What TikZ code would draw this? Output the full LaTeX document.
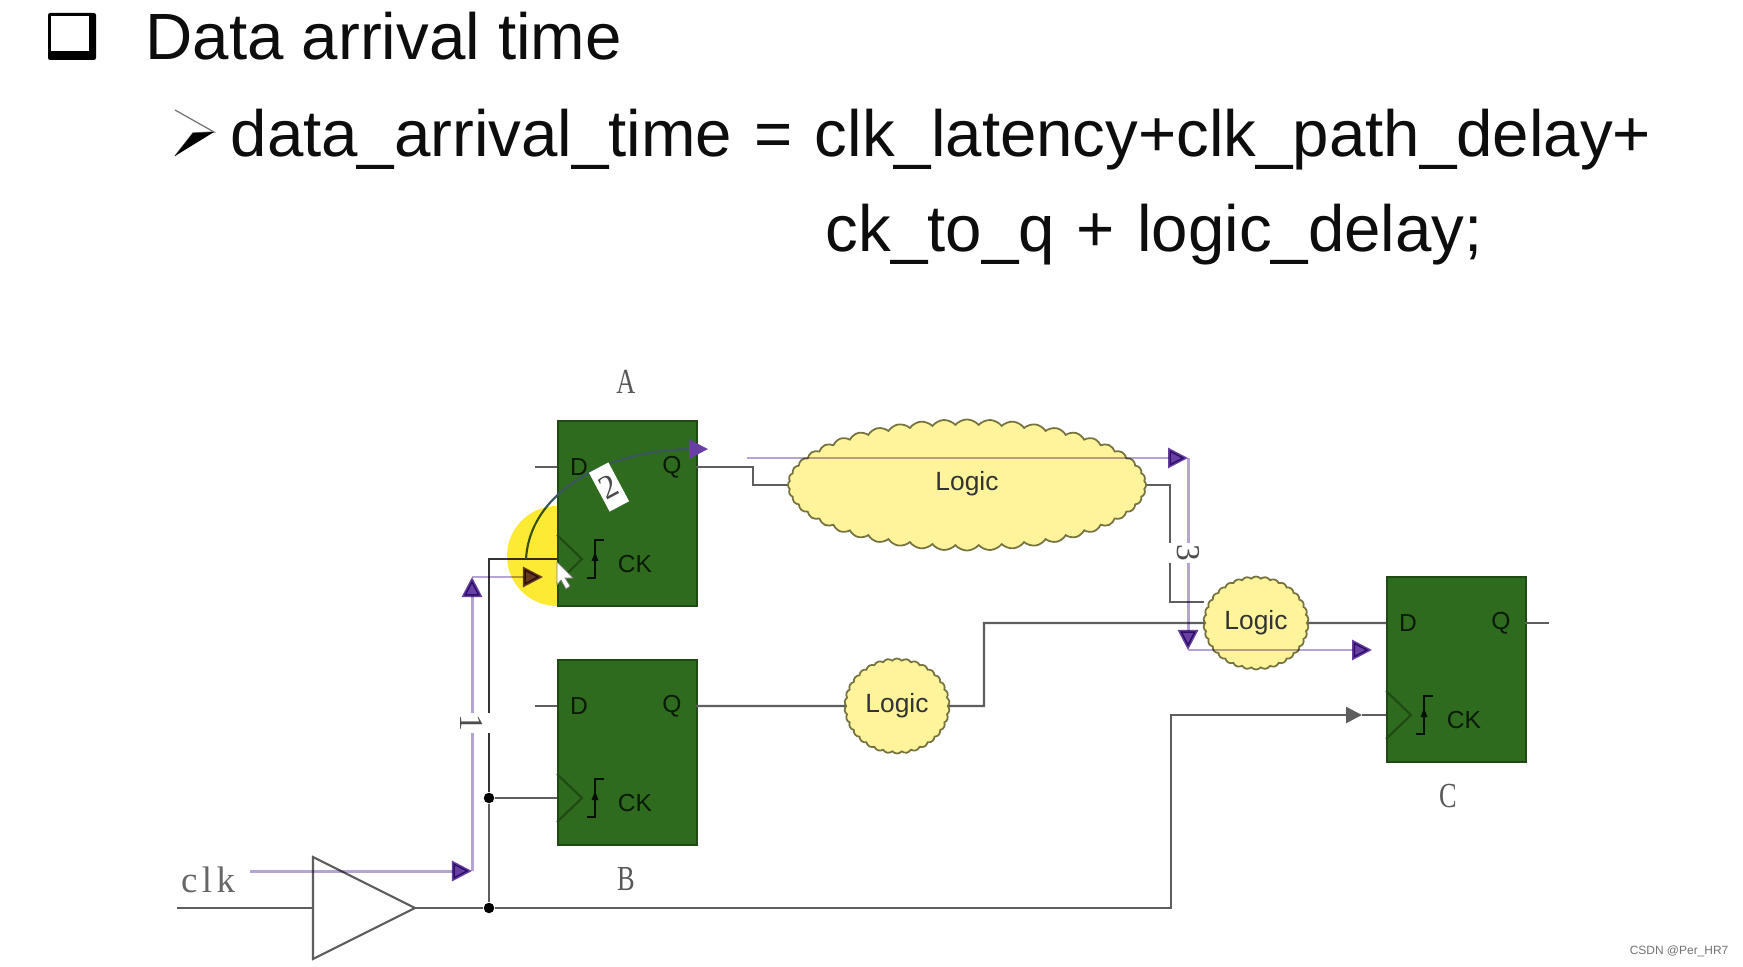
\documentclass[tikz,border=0pt]{standalone}
\usepackage{fontspec}
\setmainfont{Liberation Sans}
\newfontfamily\formulafont[WordSpace=1.22]{Liberation Sans}
\newfontfamily\labelfont{Liberation Serif}
\newfontfamily\spacedfont[LetterSpace=12]{Liberation Serif}
\usetikzlibrary{arrows.meta, shapes.symbols, calc}

\definecolor{flopgreen}{HTML}{2E6B1E}
\definecolor{flopedge}{HTML}{1F4A14}
\definecolor{cloudfill}{HTML}{FFF49C}
\definecolor{cloudedge}{HTML}{77733F}
\definecolor{wiregray}{HTML}{5E5E5E}
\definecolor{routeline}{HTML}{B5A4D6}
\definecolor{routetip}{HTML}{6A3FA3}
\definecolor{routedark}{HTML}{3A5560}
\definecolor{markyellow}{HTML}{FDEB33}

\tikzset{
  flopbox/.style={draw=flopedge, fill=flopgreen, line width=0.6pt, anchor=north west,
    minimum width=1.39cm, minimum height=1.85cm, inner sep=0pt},
  pinlabel/.style={font=\fontsize{7}{8}\selectfont, text=black!75!flopgreen, inner sep=0pt},
  logiccloud/.style={cloud, cloud puffs=#1, cloud puff arc=100, draw=cloudedge, fill=cloudfill,
    line width=0.5pt, inner sep=0pt, font=\fontsize{7.5}{9}\selectfont, text=black!80},
  wire/.style={draw=wiregray, line width=0.65pt},
  route/.style={draw=routeline, line width=0.85pt, blend mode=multiply,
    -{Triangle[length=2mm, width=2mm, color=routetip]}},
  headline/.style={font=\fontsize{18.6}{22}\selectfont, inner sep=0pt, anchor=base west, text=black!95},
  namelabel/.style={font=\labelfont\fontsize{10}{12}\selectfont, text=black!65, xscale=0.75, inner sep=0pt},
  routeno/.style={font=\labelfont\fontsize{9.5}{10}\selectfont, text=black!70, fill=white,
    rotate=#1, inner xsep=0.5pt, inner ysep=0pt},
  joint/.style={circle, fill=black, inner sep=0pt, minimum size=1.05mm},
}

\begin{document}
\begin{tikzpicture}[x=0.01cm, y=-0.01cm, >={Triangle[length=1.6mm, width=1.6mm]}]
  \fill[white] (0,0) rectangle (1743,967);
  \useasboundingbox (0,0) rectangle (1743,967);

  % headline
  \fill[black, rounded corners=0.6pt] (48,13) rectangle (96,60);
  \fill[white] (51,16) rectangle (89,51);
  \node[headline] (title) at (145,60) {Data arrival time};
  \draw[black!55, line width=0.35pt] (175,110) -- (214,132) -- (193,133) -- (175,156);
  \fill[black] (214,132) -- (175,156) -- (193,133) -- cycle;
  \node[headline] (formula) at (230,157) {\formulafont data\_arrival\_time = clk\_latency+clk\_path\_delay+};
  \node[headline] (formulb) at (825,252) {\formulafont ck\_to\_q + logic\_delay;};

  % flip-flops
  \foreach \name/\px/\py in {A/557/420, B/557/659, C/1386/576} {
    \node[flopbox] (ff\name) at (\px,\py) {};
    \draw[flopedge, line width=0.6pt] (\px,\py+115) -- (\px+25,\py+139) -- (\px,\py+163);
    \draw[black!85!flopgreen, line width=0.5pt] (\px+30,\py+158) -- (\px+38,\py+158) -- (\px+38,\py+120) -- (\px+47,\py+120);
    \fill[black!85!flopgreen] (\px+34.5,\py+141) -- (\px+41.5,\py+141) -- (\px+38,\py+132) -- cycle;
    \node[pinlabel] (d\name) at (\px+22,\py+47) {D};
    \node[pinlabel] (q\name) at (\px+115,\py+47) {Q};
    \node[pinlabel] (ck\name) at (\px+78,\py+144) {CK};
    \coordinate (din\name) at (\px,\py+47);
    \coordinate (qout\name) at (\px+139,\py+47);
    \coordinate (clk\name) at (\px,\py+139);
  }
  \node[namelabel] (nameA) at (626,382) {A};
  \node[namelabel] (nameB) at (626,879) {B};
  \node[namelabel] (nameC) at (1448,796) {C};

  % logic
  \node[logiccloud=48, aspect=2.75, minimum width=3.58cm, minimum height=1.31cm] (cloudA) at (967,485) {};
  \node[inner sep=0pt, font=\fontsize{7.5}{9}\selectfont, text=black!80] (textA) at (967,484) {Logic};
  \node[logiccloud=34, aspect=1.1, minimum width=1.05cm, minimum height=0.95cm] (cloudB) at (897,706) {Logic};
  \node[logiccloud=34, aspect=1.1, minimum width=1.05cm, minimum height=0.93cm] (cloudC) at (1256,623) {Logic};

  % buffer
  \coordinate (bufin) at (313,908);
  \coordinate (bufout) at (415,908);
  \draw[wiregray, line width=0.6pt, fill=white] (313,857) -- (bufout) -- (313,959) -- cycle;
  \node[font=\spacedfont\fontsize{10.5}{12}\selectfont, text=black!60, inner sep=0pt] (clklabel) at (208,880) {clk};

  % wires
  \coordinate (clkfree) at (177,908);
  \coordinate (stubA) at (535,467);
  \coordinate (stubB) at (535,706);
  \coordinate (stubC) at (1549,623);
  \draw[wire] (clkfree) -- (bufin);
  \draw[wire] (stubA) -- (dinA);
  \draw[wire] (stubB) -- (dinB);
  \draw[wire] (qoutC) -- (stubC);
  \node[joint] (jointlow) at (489,908) {};
  \node[joint] (jointhigh) at (489,798) {};
  \draw[wire] (bufout) -- (jointlow);
  \draw[wire] (jointlow) -- (jointhigh);
  \draw[wire] (jointhigh) -- (clkB);
  \draw[wire, draw=black!80] (jointhigh) |- (clkA);
  \coordinate (clktip) at (1362,715);
  \draw[wire, ->] (jointlow) -- (1171,908) -- (1171,715) -- (clktip);
  \draw[wire] (clktip) -- (clkC);
  \draw[wire] (qoutA) -- (753,467) -- (753,485) -- (cloudA.west);
  \draw[wire] (cloudA.east) -- (1170,485) -- (1170,602) -- (cloudC.west |- 0,602);
  \draw[wire] (qoutB) -- (cloudB.west);
  \draw[wire] (cloudB.east) -- (984,706) -- (984,623) -- (cloudC.west);
  \draw[wire] (cloudC.east) -- (dinC);

  % delay routes
  \coordinate (routea) at (250,871);
  \coordinate (routeb) at (472,871);
  \coordinate (routec) at (472,577);
  \coordinate (routed) at (543,577);
  \draw[route] (routea) -- (routeb);
  \draw[route] (routeb) -- (routec);
  \draw[route] (routec) -- (routed);
  \coordinate (routee) at (526,559);
  \coordinate (routef) at (708,449);
  \draw[draw=routedark, line width=0.6pt, -{Triangle[length=1.9mm, width=1.9mm, color=routetip]}]
    (routee) .. controls (530,490) and (610,450) .. (routef);
  \coordinate (routeg) at (747,458);
  \coordinate (routeh) at (1188,458);
  \coordinate (routei) at (1188,650);
  \coordinate (routej) at (1372,650);
  \draw[route] (routeg) -- (routeh);
  \draw[route] (routeh) -- (routei);
  \draw[route] (routei) -- (routej);

  % route numbers
  \node[routeno=-90, minimum height=4.2mm] (noA) at (472,723) {1};
  \node[routeno=-90, minimum height=4.2mm] (noC) at (1188,553) {3};
  \node[routeno=28, minimum width=2.2mm, minimum height=4.4mm] (noB) at (609,487) {2};

  % highlight and pointer
  \fill[markyellow, blend mode=multiply] (557,506) arc[start angle=-90, end angle=-270, radius=50] -- cycle;
  \fill[white, draw=black!50, line width=0.2pt] (557,562) -- (573,578) -- (565,578) -- (570,586) -- (566,589) -- (561,580) -- (557,585) -- cycle;

  \node[font=\fontsize{3.4}{4}\selectfont, text=black!55, inner sep=0pt, anchor=east] (mark) at (1729,951) {CSDN @Per\_HR7};
\end{tikzpicture}
\end{document}
